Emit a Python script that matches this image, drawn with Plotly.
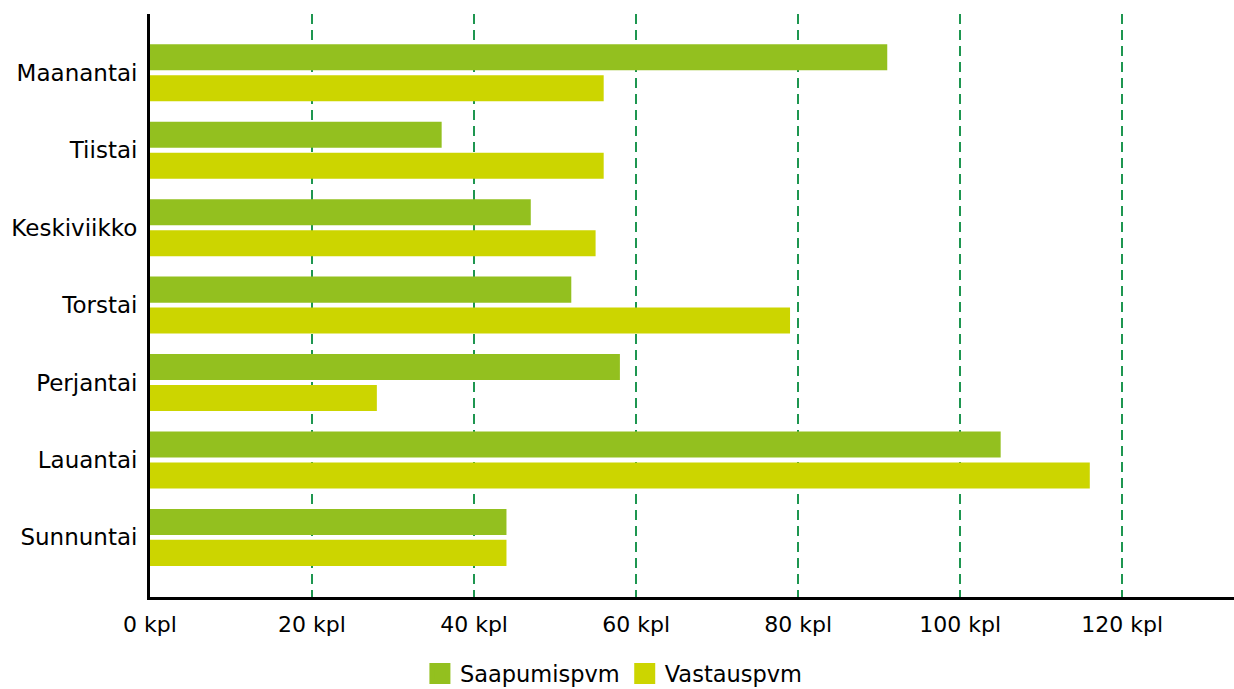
import plotly.graph_objects as go

days = ["Maanantai", "Tiistai", "Keskiviikko", "Torstai", "Perjantai", "Lauantai", "Sunnuntai"]
saapumispvm = [91, 36, 47, 52, 58, 105, 44]
vastauspvm = [56, 56, 55, 79, 28, 116, 44]
series_names = ["Saapumispvm", "Vastauspvm"]
colors = ["#93C01F", "#CCD500"]
x_ticks = [0, 20, 40, 60, 80, 100, 120]
x_tick_labels = [f"{v} kpl" for v in x_ticks]

FONT = "DejaVu Sans"

fig = go.Figure()
for name, vals, col in zip(series_names, [saapumispvm, vastauspvm], colors):
    fig.add_trace(go.Bar(y=days, x=vals, orientation="h", name=name,
                         marker=dict(color=col, line=dict(width=0)),
                         showlegend=False))
for name, col in zip(series_names, colors):
    fig.add_trace(go.Scatter(x=[None], y=[None], mode="markers", name=name,
                             marker=dict(symbol="square", size=16, color=col,
                                         line=dict(color=col, width=5)),
                             showlegend=True))

fig.update_layout(
    width=1234, height=689,
    margin=dict(l=150, r=0, t=14, b=92, autoexpand=False),
    paper_bgcolor="white", plot_bgcolor="white",
    font=dict(family=FONT, size=22, color="black"),
    barmode="group", bargap=0.2, bargroupgap=0.16,
    legend=dict(orientation="h", xref="container", yref="container",
                x=0.4975, xanchor="center", y=0.022, yanchor="middle",
                font=dict(family=FONT, size=22.5, color="black"),
                itemwidth=30, tracegroupgap=0),
    xaxis=dict(range=[0, 133.8], tickmode="array", tickvals=x_ticks, ticktext=x_tick_labels,
               showgrid=True, gridcolor="#1E9650", gridwidth=2, griddash="10px,6px",
               zeroline=False, showline=True, linecolor="black", linewidth=3,
               ticks="", ticklabelstandoff=6, automargin=False,
               tickfont=dict(family=FONT, size=22, color="black")),
    yaxis=dict(type="category", categoryorder="array", categoryarray=days,
               range=[6.77, -0.76], showgrid=False, zeroline=False,
               showline=True, linecolor="black", linewidth=3,
               ticks="", ticklabelstandoff=5, automargin=False,
               tickfont=dict(family=FONT, size=23, color="black")),
)

fig.write_html("out.html", config={"displayModeBar": False},
               post_script="document.body.style.margin='0px';document.body.style.overflow='hidden';")
